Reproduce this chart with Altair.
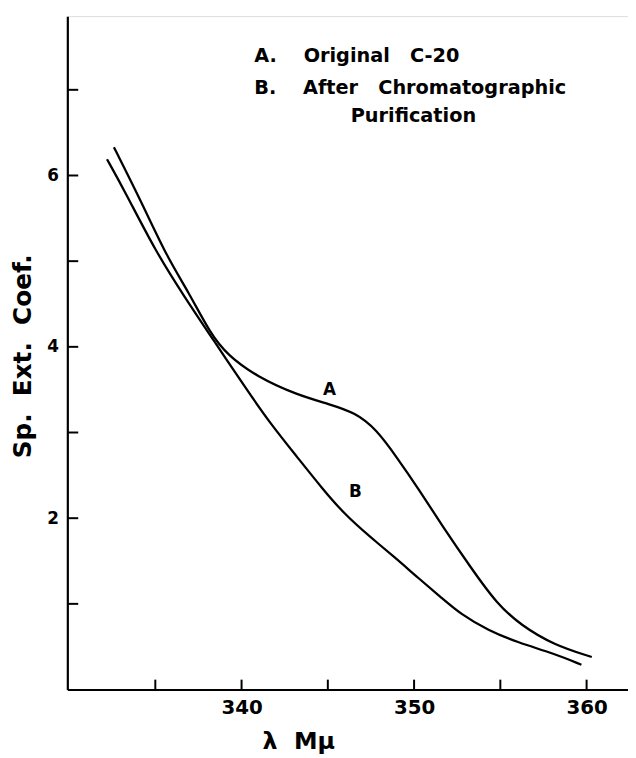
import altair as alt
import pandas as pd

# Curve A: Original C-20
a_x = [332.6, 334.2, 335.7, 336.9, 338.2, 339.2, 340.9, 343.2, 345.1, 346.6,
       347.8, 349.0, 350.3, 351.6, 353.3, 354.8, 356.2, 358.1, 360.3]
a_y = [6.33, 5.69, 5.04, 4.65, 4.15, 3.90, 3.65, 3.44, 3.33, 3.23,
       3.04, 2.71, 2.33, 1.92, 1.42, 1.00, 0.75, 0.52, 0.38]
# Curve B: After chromatographic purification
b_x = [332.2, 333.25, 335.0, 336.7, 338.3, 340.3, 341.65, 343.2, 344.7, 346.0,
       347.4, 348.9, 350.25, 351.6, 352.7, 354.3, 356.0, 358.1, 359.7]
b_y = [6.19, 5.81, 5.12, 4.58, 4.10, 3.50, 3.11, 2.72, 2.34, 2.04,
       1.79, 1.54, 1.30, 1.07, 0.88, 0.69, 0.55, 0.42, 0.29]

curve_labels = ["A", "B"]
label_x = [345.1, 346.6]
label_y = [3.50, 2.31]

x_ticks = [335, 340, 345, 350, 355, 360]
x_labels = [340, 350, 360]
y_ticks = [1, 2, 3, 4, 5, 6, 7]
y_labels = [2, 4, 6]

NB = "\u00a0"
legend_lines = ["A." + NB * 4 + "Original" + NB * 3 + "C-20",
                "B." + NB * 4 + "After" + NB * 3 + "Chromatographic",
                "Purification"]
x_title = "λ" + NB * 2 + "Mμ"
y_title = "Sp." + NB * 2 + "Ext." + NB * 2 + "Coef."

FONT = "DejaVu Sans"

df = pd.concat([
    pd.DataFrame({"x": a_x, "y": a_y, "s": "A"}),
    pd.DataFrame({"x": b_x, "y": b_y, "s": "B"}),
])

xs = alt.Scale(domain=[329.9, 362.4], nice=False, zero=False)
ys = alt.Scale(domain=[0, 7.86], nice=False, zero=False)

xaxis = alt.Axis(values=x_labels, ticks=False, grid=False, domainColor="black",
                 domainWidth=2.2, labelFont=FONT, labelFontSize=20, labelColor="black",
                 labelFontWeight="bold", labelPadding=8, format="d", title=None)
yaxis = alt.Axis(values=y_labels, ticks=False, grid=False, domainColor="black",
                 domainWidth=2.2, labelFont=FONT, labelFontSize=17, labelColor="black",
                 labelFontWeight="bold", labelPadding=9, format="d", title=None)

lines = alt.Chart(df).mark_line(color="black", strokeWidth=2.3, interpolate="basis").encode(
    x=alt.X("x:Q", scale=xs, axis=xaxis),
    y=alt.Y("y:Q", scale=ys, axis=yaxis),
    detail="s:N",
)

ytick_rules = alt.Chart(pd.DataFrame({"v": y_ticks})).mark_rule(color="black", strokeWidth=2).encode(
    y=alt.Y("v:Q", scale=ys), x=alt.value(0), x2=alt.value(11)
)
xtick_rules = alt.Chart(pd.DataFrame({"v": x_ticks})).mark_rule(color="black", strokeWidth=2).encode(
    x=alt.X("v:Q", scale=xs), y=alt.value(681), y2=alt.value(671)
)

clabels = alt.Chart(pd.DataFrame({"t": curve_labels, "x": label_x, "y": label_y})).mark_text(
    font=FONT, fontSize=17, fontWeight="bold", color="black"
).encode(x=alt.X("x:Q", scale=xs), y=alt.Y("y:Q", scale=ys), text="t:N")

def txt(t, x, y, size, align="left", angle=0):
    return alt.Chart(pd.DataFrame({"t": [t]})).mark_text(
        font=FONT, fontSize=size, fontWeight="bold", align=align, baseline="middle",
        color="black", angle=angle
    ).encode(x=alt.value(x), y=alt.value(y), text="t:N")

leg1 = txt(legend_lines[0], 189, 40, 19.5)
leg2 = txt(legend_lines[1], 189, 73, 19.5)
leg3 = txt(legend_lines[2], 350, 101, 19.5, align="center")
xtitle = txt(x_title, 234, 734, 24, align="center")
ytitle = txt(y_title, -45, 344, 25, align="center", angle=270)

chart = alt.layer(lines, ytick_rules, xtick_rules, clabels, leg1, leg2, leg3, xtitle, ytitle).properties(
    width=567, height=681,
    autosize=alt.AutoSizeParams(type="none"),
    padding={"left": 60, "top": 4, "right": 0, "bottom": 64},
).configure_view(stroke=None).configure(background="white")

chart.save("out.html", embed_options={"renderer": "svg", "actions": False})
